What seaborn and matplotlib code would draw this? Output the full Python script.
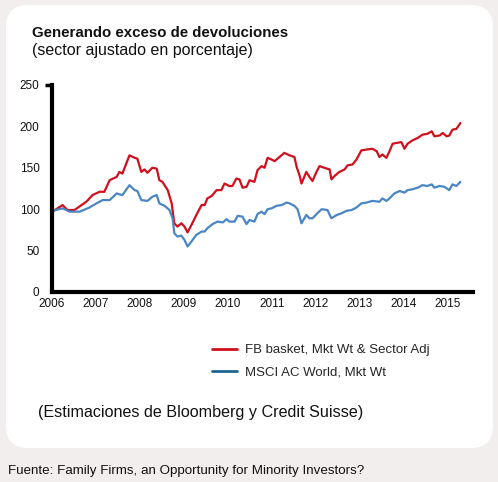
import pandas as pd
import matplotlib.pyplot as plt
import seaborn as sns
from matplotlib.patches import FancyBboxPatch

# Datos (indice base 100 en 2006)
fb_year = [2006.01, 2006.24, 2006.35, 2006.51, 2006.78, 2006.92, 2007.08, 2007.19, 2007.31, 2007.47,
           2007.53, 2007.60, 2007.76, 2007.88, 2007.94, 2008.03, 2008.10, 2008.17, 2008.28, 2008.38,
           2008.44, 2008.51, 2008.63, 2008.72, 2008.78, 2008.85, 2008.94, 2009.01, 2009.08, 2009.17,
           2009.28, 2009.40, 2009.47, 2009.53, 2009.63, 2009.74, 2009.85, 2009.92, 2010.03, 2010.10,
           2010.19, 2010.26, 2010.33, 2010.42, 2010.49, 2010.60, 2010.67, 2010.76, 2010.83, 2010.90,
           2010.99, 2011.06, 2011.17, 2011.28, 2011.40, 2011.51, 2011.56, 2011.63, 2011.67, 2011.78,
           2011.85, 2011.92, 2012.01, 2012.08, 2012.19, 2012.31, 2012.35, 2012.42, 2012.53, 2012.65,
           2012.72, 2012.83, 2012.92, 2013.03, 2013.15, 2013.28, 2013.38, 2013.44, 2013.51, 2013.60,
           2013.67, 2013.74, 2013.83, 2013.94, 2014.01, 2014.08, 2014.19, 2014.31, 2014.42, 2014.53,
           2014.63, 2014.69, 2014.81, 2014.88, 2014.97, 2015.03, 2015.10, 2015.19, 2015.28]
fb_value = [97, 105, 99, 99, 109, 117, 121, 121, 135, 139,
            145, 143, 165, 162, 161, 145, 148, 144, 150, 149,
            135, 133, 123, 107, 83, 79, 83, 79, 72, 81,
            93, 105, 105, 113, 116, 123, 123, 131, 128, 128,
            137, 136, 126, 127, 135, 133, 147, 152, 150, 162,
            160, 158, 163, 168, 165, 163, 151, 140, 131, 145,
            139, 134, 145, 152, 150, 148, 136, 140, 145, 148,
            153, 154, 160, 171, 172, 173, 170, 163, 166, 162,
            170, 179, 180, 181, 173, 179, 183, 186, 190, 191,
            194, 188, 189, 192, 188, 189, 196, 197, 204]

msci_year = [2006.01, 2006.24, 2006.40, 2006.63, 2006.85, 2007.01, 2007.15, 2007.31, 2007.47, 2007.60,
             2007.76, 2007.88, 2007.94, 2008.03, 2008.17, 2008.28, 2008.38, 2008.44, 2008.56, 2008.67,
             2008.74, 2008.78, 2008.85, 2008.94, 2009.01, 2009.08, 2009.17, 2009.28, 2009.40, 2009.47,
             2009.53, 2009.65, 2009.76, 2009.88, 2009.97, 2010.03, 2010.15, 2010.22, 2010.33, 2010.42,
             2010.49, 2010.60, 2010.67, 2010.76, 2010.83, 2010.90, 2010.99, 2011.10, 2011.22, 2011.33,
             2011.40, 2011.51, 2011.58, 2011.67, 2011.78, 2011.85, 2011.92, 2012.03, 2012.13, 2012.26,
             2012.35, 2012.47, 2012.58, 2012.69, 2012.81, 2012.92, 2013.03, 2013.15, 2013.28, 2013.44,
             2013.51, 2013.60, 2013.67, 2013.78, 2013.90, 2014.01, 2014.08, 2014.19, 2014.31, 2014.42,
             2014.53, 2014.63, 2014.69, 2014.81, 2014.92, 2015.03, 2015.10, 2015.19, 2015.28]
msci_value = [98, 101, 97, 97, 102, 107, 111, 111, 119, 117,
              129, 123, 122, 111, 110, 115, 117, 107, 104, 99,
              89, 71, 67, 68, 63, 55, 61, 69, 73, 73,
              77, 82, 85, 84, 88, 85, 85, 92, 91, 82,
              87, 85, 94, 97, 94, 100, 101, 104, 105, 108,
              107, 104, 100, 83, 93, 89, 89, 95, 100, 99,
              89, 93, 95, 98, 99, 102, 107, 108, 110, 109,
              113, 110, 113, 119, 122, 120, 123, 124, 126, 129,
              128, 130, 126, 128, 127, 123, 130, 128, 133]

series_names = ["FB basket, Mkt Wt & Sector Adj", "MSCI AC World, Mkt Wt"]
year_ticks = list(range(2006, 2016))
value_ticks = [0, 50, 100, 150, 200, 250]

df = pd.concat([
    pd.DataFrame({"year": fb_year, "value": fb_value, "serie": series_names[0]}),
    pd.DataFrame({"year": msci_year, "value": msci_value, "serie": series_names[1]}),
])

sns.set_style("white")
plt.rcParams["font.family"] = ["Liberation Sans", "DejaVu Sans"]

fig = plt.figure(figsize=(4.98, 4.82), dpi=100, facecolor="#f2eeed")

# tarjeta blanca con esquinas redondeadas
card = FancyBboxPatch((0.06, 0.34), 4.87, 4.43, boxstyle="round,pad=0,rounding_size=0.22",
                      transform=fig.dpi_scale_trans, facecolor="white", edgecolor="none", zorder=-5)
fig.patches.append(card)

ax = fig.add_axes([0.1044, 0.3942, 0.8456, 0.4295])
ax.set_facecolor("none")
ax.patch.set_alpha(0)

sns.lineplot(data=df, x="year", y="value", hue="serie", estimator=None, sort=False,
             palette=["#d0101c", "#4a86c4"], linewidth=1.6, ax=ax)

ax.set_xlim(2006, 2015.57)
ax.set_ylim(0, 250)
ax.set_xticks(year_ticks)
ax.set_yticks(value_ticks)
ax.tick_params(axis="both", length=0, labelsize=8.5, colors="#111111")
ax.tick_params(axis="y", pad=9)
ax.tick_params(axis="x", pad=4)
# pequena marca en el extremo superior del eje
ax.yaxis.remove_overlapping_locs = False
ax.set_yticks([250], minor=True)
ax.tick_params(axis="y", which="minor", left=True, length=5, width=2.5, color="black")
ax.set_xlabel("")
ax.set_ylabel("")
for side in ["top", "right"]:
    ax.spines[side].set_visible(False)
for side in ["left", "bottom"]:
    ax.spines[side].set_linewidth(3)
    ax.spines[side].set_color("black")

leg = ax.legend(loc="upper left", bbox_to_anchor=(212 / 498, 1 - 344 / 482),
                bbox_transform=fig.transFigure, frameon=False, fontsize=9.5,
                handlelength=1.9, handletextpad=0.6, labelspacing=0.75,
                borderpad=0, borderaxespad=0, title=None)
leg.legend_handles[1].set_color("#1d6690")
for h in leg.legend_handles:
    h.set_linewidth(2)

fig.text(32 / 498, 1 - 33 / 482, "Generando exceso de devoluciones", fontsize=10.8,
         fontweight="bold", va="center", color="#111111")
fig.text(32 / 498, 1 - 51 / 482, "(sector ajustado en porcentaje)", fontsize=11.5,
         va="center", color="#111111")
fig.text(38 / 498, 1 - 413 / 482, "(Estimaciones de Bloomberg y Credit Suisse)", fontsize=11.6,
         va="center", color="#111111")
fig.text(8 / 498, 1 - 471 / 482, "Fuente: Family Firms, an Opportunity for Minority Investors?",
         fontsize=9.6, va="center", color="#111111")

plt.savefig("out.png", dpi=100, facecolor=fig.get_facecolor())
